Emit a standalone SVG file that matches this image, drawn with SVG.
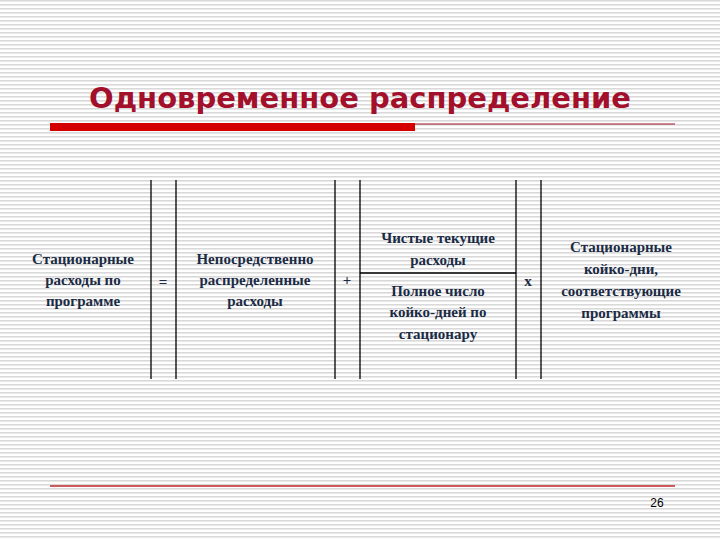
<svg xmlns="http://www.w3.org/2000/svg" width="720" height="540" viewBox="0 0 720 540">
<defs>
<pattern id="stripes" width="8" height="4" patternUnits="userSpaceOnUse">
<rect width="8" height="4" fill="#ffffff"/>
<rect y="0" width="8" height="1.6" fill="#d9d9d9"/>
</pattern>
<style>
.t{font-family:"Liberation Serif",serif;font-weight:bold;font-size:15px;fill:#1b2b45;text-anchor:middle}
.v{stroke:#000;stroke-width:1.3}
</style>
</defs>
<rect width="720" height="540" fill="url(#stripes)"/>
<g id="title">
<text x="360" y="108" font-family="DejaVu Sans, sans-serif" font-weight="bold" font-size="29" fill="#a3102b" text-anchor="middle">Одновременное распределение</text>
<rect x="50" y="123" width="365" height="8" fill="#d40000"/>
<line x1="415" y1="124" x2="675" y2="124" stroke="#a3102b" stroke-width="1"/>
</g>
<g id="connectors">
<line class="v" x1="151" y1="180" x2="151" y2="379"/>
<line class="v" x1="176" y1="180" x2="176" y2="379"/>
<line class="v" x1="335" y1="180" x2="335" y2="379"/>
<line class="v" x1="360" y1="180" x2="360" y2="379"/>
<line class="v" x1="516" y1="180" x2="516" y2="379"/>
<line class="v" x1="541" y1="180" x2="541" y2="379"/>
<line class="v" x1="360" y1="273" x2="516" y2="273"/>
</g>
<g id="n1"><text class="t" x="83" y="264">Стационарные</text><text class="t" x="83" y="285">расходы по</text><text class="t" x="83" y="306">программе</text></g>
<g id="eq"><text class="t" x="163" y="287" font-weight="normal">=</text></g>
<g id="n2"><text class="t" x="255" y="264">Непосредственно</text><text class="t" x="255" y="285">распределенные</text><text class="t" x="255" y="306">расходы</text></g>
<g id="plus"><text class="t" x="347" y="285" font-weight="normal">+</text></g>
<g id="n3"><text class="t" x="438" y="243">Чистые текущие</text><text class="t" x="438" y="265">расходы</text></g>
<g id="n4"><text class="t" x="438" y="296">Полное число</text><text class="t" x="438" y="317">койко-дней по</text><text class="t" x="438" y="339">стационару</text></g>
<g id="times"><text class="t" x="528" y="286">x</text></g>
<g id="n5"><text class="t" x="621" y="252">Стационарные</text><text class="t" x="621" y="274">койко-дни,</text><text class="t" x="621" y="296">соответствующие</text><text class="t" x="621" y="318">программы</text></g>
<g id="footer">
<line x1="50" y1="486" x2="675" y2="486" stroke="#c0282d" stroke-width="1.5"/>
<text x="657" y="507" font-family="Liberation Sans, sans-serif" font-size="12" fill="#000" text-anchor="middle">26</text>
</g>
</svg>
